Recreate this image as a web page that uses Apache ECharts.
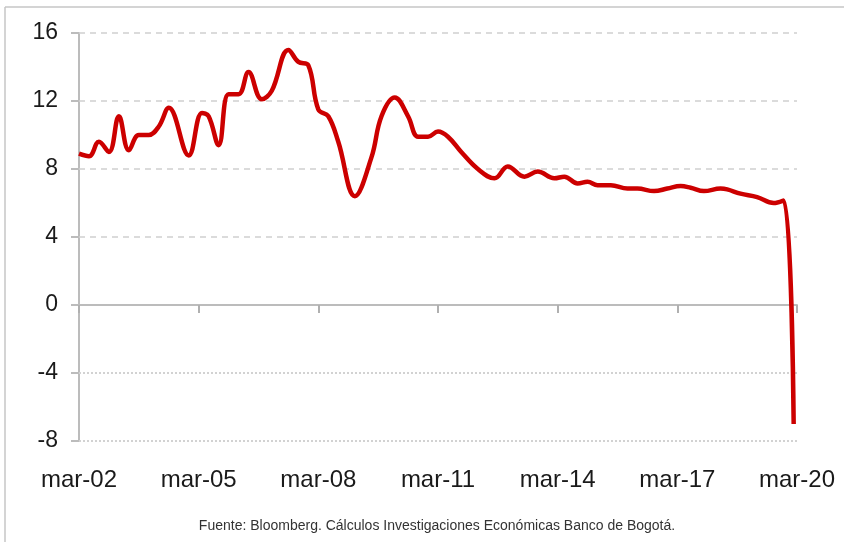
<!DOCTYPE html>
<html>
<head>
<meta charset="utf-8">
<script src="https://cdn.jsdelivr.net/npm/echarts@6/dist/echarts.min.js"></script>
<style>
  html, body { margin: 0; padding: 0; background: #fff; }
  #chart { width: 844px; height: 542px; }
</style>
</head>
<body>
<div id="chart"></div>
<script>
// months since mar-02, read at the turning points of the line
const months = [0, 3, 6, 9, 12, 15, 18, 21, 24, 27, 33, 37, 39, 42, 45, 48, 51, 55, 58, 63,
  66, 69, 72, 75, 78, 83, 88, 91, 95, 99, 102, 105, 108, 111, 115, 120, 125, 129, 134, 138,
  143, 146, 150, 153, 156, 160, 165, 168, 173, 177, 181, 184, 188, 193, 195, 199, 204, 209, 212, 215];
const values = [8.9, 8.75, 9.6, 9.0, 11.1, 9.1, 10.0, 10.0, 10.5, 11.6, 8.8, 11.3, 11.1, 9.4, 12.4, 12.4, 13.7, 12.1, 12.6, 15.0,
  14.3, 14.1, 11.5, 11.1, 9.6, 6.4, 8.7, 11.1, 12.2, 11.1, 9.9, 9.9, 10.2, 9.9, 9.0, 8.0, 7.45, 8.15, 7.55, 7.85,
  7.45, 7.55, 7.15, 7.25, 7.05, 7.05, 6.85, 6.85, 6.7, 6.85, 7.0, 6.9, 6.7, 6.85, 6.8, 6.55, 6.35, 6.0, 6.15, -7.0];
const yTicks = [-8, -4, 0, 4, 8, 12, 16];
const dashedLines = [4, 8, 12, 16];
const dottedLines = [-4, -8];
const source = 'Fuente: Bloomberg. Cálculos Investigaciones Económicas Banco de Bogotá.';

const sans = "'Liberation Sans', Arial, sans-serif";
const grey = '#bcbcbc';

let chart = echarts.init(document.getElementById('chart'));

let gridLines = [];
dashedLines.forEach(v => gridLines.push({ yAxis: v, lineStyle: { type: [6, 5], color: '#cfcfcf', width: 1.5 } }));
dottedLines.forEach(v => gridLines.push({ yAxis: v, lineStyle: { type: [2, 2], color: '#d2d2d2', width: 2 } }));

let option = {
  animation: false,
  grid: { left: 79, right: 47, top: 33, bottom: 101 },
  xAxis: [{
    type: 'value',
    min: 0,
    max: 216,
    interval: 36,
    position: 'bottom',
    axisLine: { show: false, onZero: false },
    axisTick: { show: false },
    splitLine: { show: false },
    axisLabel: {
      showMinLabel: true,
      showMaxLabel: true,
      margin: 27,
      fontSize: 24,
      fontFamily: sans,
      color: '#1a1a1a',
      formatter: v => 'mar-' + String(2 + v / 12).padStart(2, '0')
    }
  }, {
    // zero line with its ticks
    type: 'value',
    min: 0,
    max: 216,
    interval: 36,
    position: 'top',
    axisLine: { show: true, onZero: true, lineStyle: { color: grey, width: 2 } },
    axisTick: { show: true, inside: true, length: 8, lineStyle: { color: '#b0b0b0', width: 2 } },
    splitLine: { show: false },
    axisLabel: { show: false }
  }],
  yAxis: {
    type: 'value',
    min: yTicks[0],
    max: yTicks[yTicks.length - 1],
    interval: 4,
    axisLine: { show: true, lineStyle: { color: grey, width: 2 } },
    axisTick: { show: true, length: 8, lineStyle: { color: grey, width: 2 } },
    splitLine: { show: false },
    axisLabel: { margin: 21, fontSize: 23, fontFamily: sans, color: '#1a1a1a' }
  },
  series: [{
    type: 'line',
    data: [],
    z: 1,
    markLine: {
      silent: true,
      symbol: 'none',
      label: { show: false },
      data: gridLines
    }
  }, {
    type: 'line',
    z: 5,
    xAxisIndex: 0,
    data: months.map((m, i) => [m, values[i]]),
    showSymbol: false,
    smooth: 0.4,
    lineStyle: { color: '#cc0000', width: 4.5 }
  }],
  graphic: [
    { type: 'line', shape: { x1: 5, y1: 7, x2: 844, y2: 7 }, style: { stroke: '#c6c6c6', lineWidth: 1.5 } },
    { type: 'line', shape: { x1: 5, y1: 7, x2: 5, y2: 542 }, style: { stroke: '#c6c6c6', lineWidth: 1.5 } },
    {
      type: 'text',
      x: 437,
      y: 526,
      style: {
        text: source,
        align: 'center',
        verticalAlign: 'middle',
        font: "14px 'Liberation Sans', Arial, sans-serif",
        fill: '#333'
      }
    }
  ]
};
chart.setOption(option);
</script>
</body>
</html>
